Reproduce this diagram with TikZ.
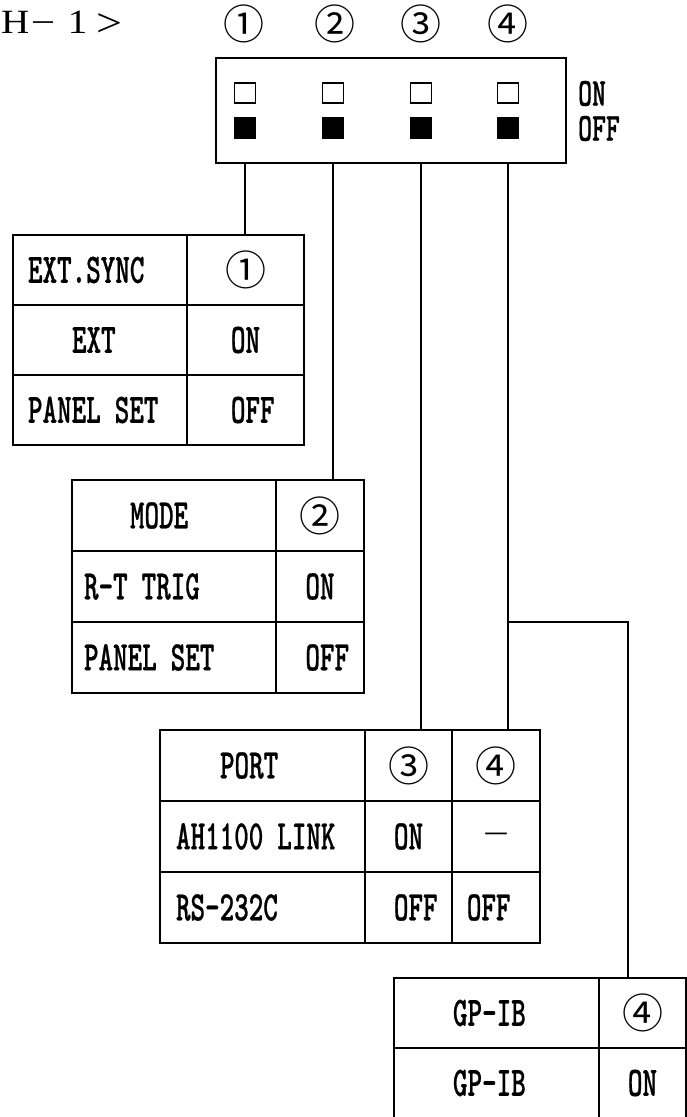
\documentclass[tikz,border=0pt]{standalone}
\usepackage{fontspec}
\newfontfamily\tabfont{lmmonolt10-bold.otf}[FakeStretch=0.66,FakeBold=0.5]
\newfontfamily\symfont{DejaVu Sans}
\newfontfamily\cjkfont{Noto Sans CJK JP}
\newfontfamily\headfont{Liberation Serif}[FakeStretch=1.15]
\newcommand\cellfont{\tabfont\fontsize{42}{44}\selectfont}
\newcommand\numfont{\cjkfont\fontsize{41}{41}\selectfont}
\newcommand\offl{\rlap{OFF}\phantom{ON}}   % OFF, starts where ON starts
\newcommand\offr{\phantom{ON}\llap{OFF}}   % OFF, ends where ON ends
\begin{document}
\begin{tikzpicture}[x=1pt, y=-1pt,
    cell/.style={draw, line width=1.7pt, inner sep=0pt, font=\cellfont},
    pad/.style={align=left, inner xsep=#1},
    num/.style={inner sep=0pt, font=\numfont},
    knob/.style={draw, line width=1.3pt, minimum width=21pt, minimum height=20pt, inner sep=0pt},
    wire/.style={line width=1.2pt}]
  \useasboundingbox (0,0) rectangle (687,1117);

  \node[anchor=base west, inner sep=0pt, font=\headfont\fontsize{34}{34}\selectfont] (title) at (1,33)
    {H\hspace{4pt}\raisebox{3pt}{–}\hspace{15pt}1\hspace{9pt}{\fontsize{40}{40}\selectfont\raisebox{-3pt}{>}}}; % Kennung

  % Schalter
  \node[draw, line width=1.6pt, minimum width=350pt, minimum height=105pt] (dip) at (391,110.5) {};
  \node[num] (k1) at (244,24) {①};
  \node[num] (k2) at (335,24) {②};
  \node[num] (k3) at (421,24) {③};
  \node[num] (k4) at (508,24) {④};
  \node[knob] (on1) at (245,93) {};        \node[knob, fill] (off1) at (245,128) {};
  \node[knob] (on2) at (333,93) {};        \node[knob, fill] (off2) at (333,128) {};
  \node[knob] (on3) at (421,93) {};        \node[knob, fill] (off3) at (421,128) {};
  \node[knob] (on4) at (508,93) {};        \node[knob, fill] (off4) at (508,128) {};
  \node[anchor=west, align=left, inner sep=0pt, font=\tabfont\fontsize{40}{35}\selectfont] (lbl) at (578,111) {ON\\OFF}; % Stellungen

  % EXT.SYNC
  \node[cell, pad=15pt, text width=144pt, minimum height=70pt] (ext11) at (100,270) {EXT.SYNC};
  \node[cell, minimum width=117pt, minimum height=70pt] (ext12) at (245.5,270) {\numfont ①};
  \node[cell, pad=59pt, text width=56pt, minimum height=70pt] (ext21) at (100,340) {EXT};
  \node[cell, minimum width=117pt, minimum height=70pt] (ext22) at (245.5,340) {ON};
  \node[cell, pad=15pt, text width=144pt, minimum height=70pt] (ext31) at (100,410) {PANEL SET};
  \node[cell, minimum width=117pt, minimum height=70pt] (ext32) at (245.5,410) {\offl};

  % MODE
  \node[cell, pad=58pt, text width=88pt, minimum height=71pt] (mode11) at (174,515.5) {MODE};
  \node[cell, minimum width=88pt, minimum height=71pt] (mode12) at (320,515.5) {\numfont ②};
  \node[cell, pad=12pt, text width=180pt, minimum height=71pt] (mode21) at (174,586.5) {R-T TRIG};
  \node[cell, minimum width=88pt, minimum height=71pt] (mode22) at (320,586.5) {ON};
  \node[cell, pad=12pt, text width=180pt, minimum height=71pt] (mode31) at (174,657.5) {PANEL SET};
  \node[cell, minimum width=88pt, minimum height=71pt] (mode32) at (320,657.5) {\offl};

  % PORT
  \node[cell, pad=60pt, text width=85pt, minimum height=71pt] (port11) at (262.5,765.5) {PORT};
  \node[cell, minimum width=87pt, minimum height=71pt] (port12) at (408.5,765.5) {\numfont ③};
  \node[cell, minimum width=88pt, minimum height=71pt] (port13) at (496,765.5) {\numfont ④};
  \node[cell, pad=16pt, text width=173pt, minimum height=71pt] (port21) at (262.5,836.5) {AH1100 LINK};
  \node[cell, minimum width=87pt, minimum height=71pt] (port22) at (408.5,836.5) {ON};
  \node[cell, minimum width=88pt, minimum height=71pt] (port23) at (496,836.5) {\symfont\fontsize{24}{24}\selectfont —};
  \node[cell, pad=16pt, text width=173pt, minimum height=71pt] (port31) at (262.5,907.5) {RS-232C};
  \node[cell, minimum width=87pt, minimum height=71pt] (port32) at (408.5,907.5) {\offl};
  \node[cell, minimum width=88pt, minimum height=71pt] (port33) at (496,907.5) {\offr};

  % GP-IB
  \node[cell, pad=59pt, text width=87pt, minimum height=70pt] (gpib11) at (496.5,1013) {GP-IB};
  \node[cell, minimum width=87pt, minimum height=70pt] (gpib12) at (642.5,1013) {\numfont ④};
  \node[cell, pad=59pt, text width=87pt, minimum height=70pt] (gpib21) at (496.5,1083) {GP-IB};
  \node[cell, minimum width=87pt, minimum height=70pt] (gpib22) at (642.5,1083) {ON};

  % Leitungen
  \coordinate (fork) at (508,622);
  \coordinate (drop) at (628,622);
  \draw[wire] (off1 |- dip.south) -- (off1 |- ext12.north);
  \draw[wire] (off2 |- dip.south) -- (off2 |- mode12.north);
  \draw[wire] (off3 |- dip.south) -- (off3 |- port12.north);
  \draw[wire] (off4 |- dip.south) -- (off4 |- port13.north);
  \draw[wire] (fork) -- (drop) -- (drop |- gpib12.north);             % Abzweig
\end{tikzpicture}
\end{document}
